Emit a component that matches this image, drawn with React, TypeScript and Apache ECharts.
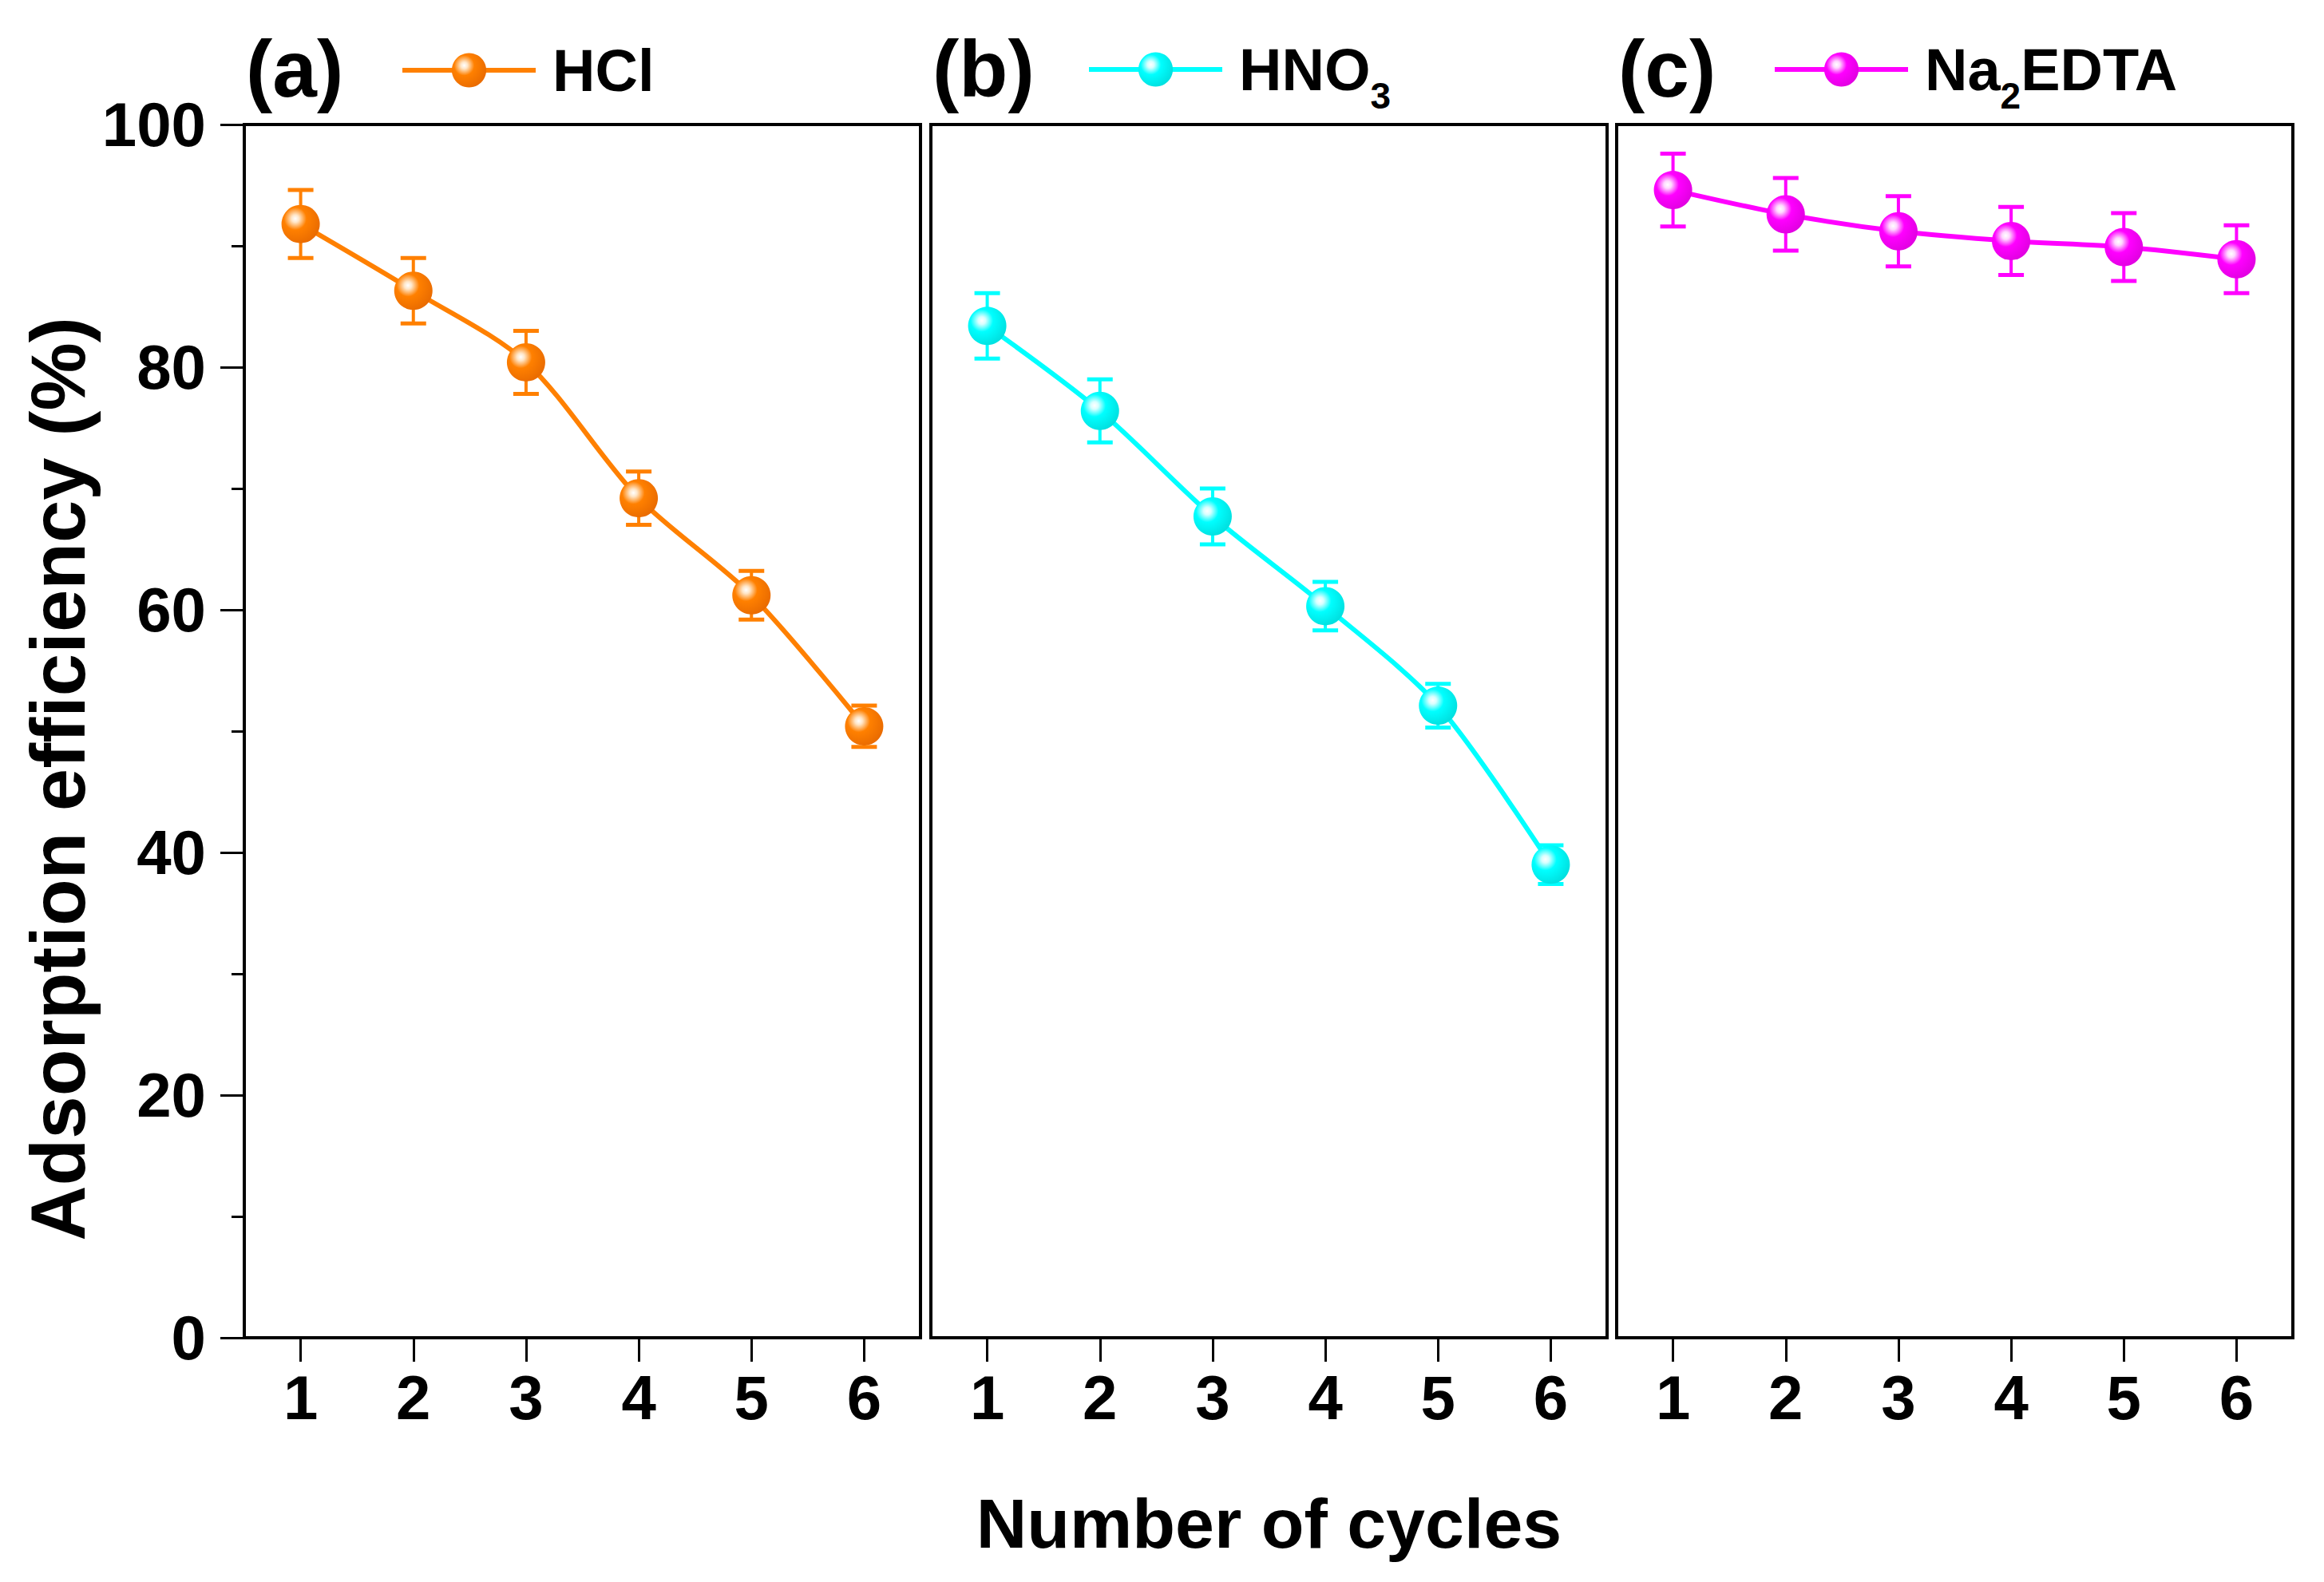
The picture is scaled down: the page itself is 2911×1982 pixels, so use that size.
import React, { useEffect, useRef } from "react";
import * as echarts from "echarts";

const CYCLES = ["1", "2", "3", "4", "5", "6"];
const SERIES_NAMES = ["HCl", "HNO3", "Na2EDTA"];
const PANEL_LABELS = ["(a)", "(b)", "(c)"];
const HCL = [91.8, 86.3, 80.4, 69.2, 61.2, 50.4];
const HCL_ERR = [2.8, 2.7, 2.6, 2.2, 2.0, 1.7];
const HNO3 = [83.4, 76.4, 67.7, 60.3, 52.1, 39.0];
const HNO3_ERR = [2.7, 2.6, 2.3, 2.0, 1.8, 1.6];
const EDTA = [94.6, 92.6, 91.2, 90.4, 89.9, 88.9];
const EDTA_ERR = [3.0, 3.0, 2.9, 2.8, 2.8, 2.8];
const Y_MIN = 0;
const Y_MAX = 100;
const Y_STEP = 20;

const VALUES = [HCL, HNO3, EDTA];
const ERRORS = [HCL_ERR, HNO3_ERR, EDTA_ERR];
const COLORS = ["#ff8000", "#00ffff", "#ff00ff"];
const DARK = ["#e86a00", "#00dede", "#e000e0"];
const LIGHT = ["#ffe6c8", "#d8ffff", "#ffd8ff"];

const FONT = "'Liberation Sans', Arial, Helvetica, sans-serif";
const GRID_LEFT = [306, 1166, 2025];
const GRID_TOP = 156;
const GRID_W = 847;
const GRID_H = 1520;

function sphere(i: number) {
  return {
    type: "radial",
    x: 0.36,
    y: 0.36,
    r: 0.7,
    colorStops: [
      { offset: 0, color: "#ffffff" },
      { offset: 0.14, color: LIGHT[i] },
      { offset: 0.42, color: COLORS[i] },
      { offset: 1, color: DARK[i] },
    ],
  };
}

function legendLabel(name: string) {
  if (name === "HNO3") return "HNO{sub|3}";
  if (name === "Na2EDTA") return "Na{sub|2}EDTA";
  return name;
}

export default function App() {
  const ref = useRef<HTMLDivElement>(null);
  useEffect(() => {
    if (!ref.current) return;
    const chart = echarts.init(ref.current, null, { renderer: "svg" });

    const grids = GRID_LEFT.map((left) => ({
      left,
      top: GRID_TOP,
      width: GRID_W,
      height: GRID_H,
      show: true,
      borderColor: "#000",
      borderWidth: 4,
      backgroundColor: "transparent",
    }));

    const xAxes = GRID_LEFT.map((_, i) => ({
      type: "category",
      gridIndex: i,
      data: CYCLES,
      boundaryGap: true,
      axisLine: { show: true, lineStyle: { color: "#000", width: 4 } },
      axisTick: { show: true, alignWithLabel: true, length: 30, lineStyle: { color: "#000", width: 3 } },
      axisLabel: { fontSize: 78, fontWeight: "bold", color: "#000", fontFamily: FONT, margin: 36 },
      splitLine: { show: false },
      name: i === 1 ? "Number of cycles" : "",
      nameLocation: "middle",
      nameGap: 188,
      nameTextStyle: { fontSize: 88, fontWeight: "bold", color: "#000", fontFamily: FONT },
    }));

    const yAxes = GRID_LEFT.map((_, i) => ({
      type: "value",
      gridIndex: i,
      min: Y_MIN,
      max: Y_MAX,
      interval: Y_STEP,
      axisLine: { show: i === 0, lineStyle: { color: "#000", width: 4 } },
      axisTick: { show: i === 0, length: 30, lineStyle: { color: "#000", width: 3 } },
      minorTick: { show: i === 0, splitNumber: 2, length: 16, lineStyle: { color: "#000", width: 3 } },
      axisLabel: { show: i === 0, fontSize: 78, fontWeight: "bold", color: "#000", fontFamily: FONT, margin: 48 },
      splitLine: { show: false },
      minorSplitLine: { show: false },
    }));

    const series: any[] = [];
    VALUES.forEach((vals, i) => {
      const errs = ERRORS[i];
      series.push({
        type: "custom",
        name: SERIES_NAMES[i] + " error",
        xAxisIndex: i,
        yAxisIndex: i,
        z: 2,
        silent: true,
        data: vals.map((v, k) => [k, v - errs[k], v + errs[k]]),
        encode: { x: 0, y: [1, 2] },
        renderItem: (params: any, api: any) => {
          const xi = api.value(0);
          const lo = api.coord([xi, api.value(1)]);
          const hi = api.coord([xi, api.value(2)]);
          const cap = 16;
          const style = { stroke: COLORS[i], lineWidth: 4 };
          return {
            type: "group",
            children: [
              { type: "line", shape: { x1: lo[0], y1: lo[1], x2: hi[0], y2: hi[1] }, style },
              { type: "line", shape: { x1: hi[0] - cap, y1: hi[1], x2: hi[0] + cap, y2: hi[1] }, style: { stroke: COLORS[i], lineWidth: 5 } },
              { type: "line", shape: { x1: lo[0] - cap, y1: lo[1], x2: lo[0] + cap, y2: lo[1] }, style: { stroke: COLORS[i], lineWidth: 5 } },
            ],
          };
        },
      });
      series.push({
        type: "line",
        name: SERIES_NAMES[i],
        xAxisIndex: i,
        yAxisIndex: i,
        z: 3,
        data: vals,
        smooth: 0.3,
        color: COLORS[i],
        symbol: "circle",
        symbolSize: 48,
        showSymbol: true,
        lineStyle: { color: COLORS[i], width: 6 },
        itemStyle: { color: sphere(i), borderWidth: 0 },
      });
    });

    const legends = SERIES_NAMES.map((name, i) => ({
      data: [name],
      left: [501, 1361, 2220][i],
      top: i === 0 ? 51 : 31,
      padding: 0,
      itemWidth: 167,
      itemHeight: 54,
      selectedMode: false,
      formatter: legendLabel,
      lineStyle: { width: 6, color: COLORS[i] },
      textStyle: {
        fontSize: 74,
        lineHeight: 72,
        fontWeight: "bold",
        color: "#000",
        fontFamily: FONT,
        padding: [0, 0, 0, 16],
        rich: {
          sub: { fontSize: 46, lineHeight: 46, fontWeight: "bold", color: "#000", fontFamily: FONT, padding: [66, 0, 0, 0] },
        },
      },
    }));

    const graphics: any[] = PANEL_LABELS.map((t, i) => ({
      type: "text",
      left: GRID_LEFT[i] + 2,
      top: 36,
      style: { text: t, fontSize: 100, fontWeight: "bold", fill: "#000", fontFamily: FONT },
    }));
    graphics.push({
      type: "text",
      x: 72,
      y: 976,
      rotation: Math.PI / 2,
      style: {
        text: "Adsorption efficiency (%)",
        fontSize: 96,
        fontWeight: "bold",
        fill: "#000",
        fontFamily: FONT,
        align: "center",
        verticalAlign: "middle",
        textAlign: "center",
        textVerticalAlign: "middle",
      },
    });

    chart.setOption({
      animation: false,
      backgroundColor: "#ffffff",
      grid: grids,
      xAxis: xAxes,
      yAxis: yAxes,
      legend: legends,
      series,
      graphic: graphics,
    });
    return () => chart.dispose();
  }, []);

  return (
    <div
      ref={ref}
      style={{ position: "fixed", left: 0, top: 0, width: 2911, height: 1982, background: "#fff" }}
    />
  );
}
